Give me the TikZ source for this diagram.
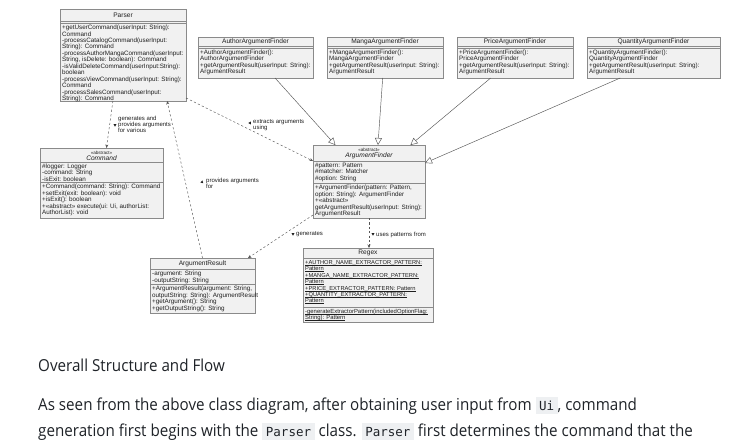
\documentclass[tikz,border=0pt]{standalone}
\usepackage{fontspec}
\setmainfont{Liberation Sans}
\newfontfamily\bodyfont[FakeStretch=0.92]{Open Sans}
\newfontfamily\codefont{DejaVu Sans Mono}
\usetikzlibrary{arrows.meta,calc,shapes.geometric}
\definecolor{boxfill}{HTML}{F1F1F1}
\definecolor{boxline}{HTML}{8A8A8A}
\definecolor{edgec}{HTML}{555555}
\definecolor{txt}{HTML}{1F1F1F}
\definecolor{codebg}{HTML}{EEF0F2}
\definecolor{bodytxt}{HTML}{1F2328}
\newcommand\codespan[1]{{\setlength{\fboxsep}{3.5pt}\colorbox{codebg}{\codefont\fontsize{12.5}{13}\selectfont #1}}}
\newcommand\ulx[1]{{\setbox0\hbox{#1}\rlap{\rule[-0.9pt]{\wd0}{0.35pt}}\box0}}
\newcommand\tightlines{\setlength{\lineskiplimit}{-20pt}}
\tikzset{
 cls/.style={draw=boxline, fill=boxfill, line width=0.5pt, anchor=north west, inner sep=0pt, outer sep=0pt},
 sepline/.style={draw=boxline, line width=0.5pt},
 mem/.style={anchor=north west, align=left, inner sep=0pt, text=txt, font=\fontsize{6.3}{6.45}\selectfont, execute at begin node=\tightlines},
 ttl/.style={inner sep=0pt, text=txt, font=\fontsize{6.6}{7}\selectfont},
 stereo/.style={inner sep=0pt, text=txt, font=\fontsize{4.6}{5}\selectfont},
 lbl/.style={anchor=north west, align=left, inner sep=0pt, text=txt, font=\fontsize{6}{6.3}\selectfont, execute at begin node=\tightlines},
 dep/.style={draw=edgec, line width=0.45pt, dash pattern=on 2.2pt off 2.2pt, -{Stealth[length=3.5pt,width=3pt]}},
 inh/.style={draw=edgec, line width=0.45pt, -{Triangle[open,length=7pt,width=7pt,fill=white]}},
 dirmark/.style={regular polygon, regular polygon sides=3, fill=txt, inner sep=0pt, minimum size=3.4pt},
 body/.style={anchor=base west, inner sep=0pt, text=bodytxt, font=\bodyfont\fontsize{16.5}{19}\selectfont},
}
\begin{document}
\begin{tikzpicture}[x=1pt,y=-1pt]
\useasboundingbox (0,0) rectangle (740,440);
\fill[white] (0,0) rectangle (740,440);

% ---------- Parser
\node[cls, minimum width=126pt, minimum height=92pt] (parser) at (60,9) {};
\node[ttl] (parsert) at (123,15) {Parser};
\draw[sepline] (60,21) -- (186,21);
\draw[sepline] (60,23.5) -- (186,23.5);
\node[mem] (parserm) at (62,24.8) {+getUserCommand(userInput: String):\\Command\\-processCatalogCommand(userInput:\\String): Command\\-processAuthorMangaCommand(userInput:\\String, isDelete: boolean): Command\\-isValidDeleteCommand(userInput:String):\\boolean\\-processViewCommand(userInput: String):\\Command\\-processSalesCommand(userInput:\\String): Command};

% ---------- Command
\node[cls, minimum width=123pt, minimum height=70pt] (command) at (40,148) {};
\node[stereo] (commands) at (101.5,152.5) {«abstract»};
\node[ttl, font=\fontsize{6.6}{7}\selectfont\itshape] (commandt) at (101.5,157.8) {Command};
\draw[sepline] (40,162) -- (163,162);
\node[mem] (commanda) at (42,163.5) {\#logger: Logger\\-command: String\\-isExit: boolean};
\draw[sepline] (40,182.5) -- (163,182.5);
\node[mem] (commandm) at (42,184) {+Command(command: String): Command\\+setExit(exit: boolean): void\\+isExit(): boolean\\+«abstract» execute(ui: Ui, authorList:\\AuthorList): void};

% ---------- Finders
\node[cls, minimum width=115pt, minimum height=41pt] (author) at (198,37) {};
\node[ttl] (authort) at (255.5,41.5) {AuthorArgumentFinder};
\draw[sepline] (198,46) -- (313,46);
\draw[sepline] (198,48) -- (313,48);
\node[mem] (authorm) at (200,49.5) {+AuthorArgumentFinder():\\AuthorArgumentFinder\\+getArgumentResult(userInput: String):\\ArgumentResult};

\node[cls, minimum width=116pt, minimum height=41pt] (manga) at (327,37) {};
\node[ttl] (mangat) at (385,41.5) {MangaArgumentFinder};
\draw[sepline] (327,46) -- (443,46);
\draw[sepline] (327,48) -- (443,48);
\node[mem] (mangam) at (329,49.5) {+MangaArgumentFinder():\\MangaArgumentFinder\\+getArgumentResult(userInput: String):\\ArgumentResult};

\node[cls, minimum width=116pt, minimum height=41pt] (price) at (457,37) {};
\node[ttl] (pricet) at (515,41.5) {PriceArgumentFinder};
\draw[sepline] (457,46) -- (573,46);
\draw[sepline] (457,48) -- (573,48);
\node[mem] (pricem) at (459,49.5) {+PriceArgumentFinder():\\PriceArgumentFinder\\+getArgumentResult(userInput: String):\\ArgumentResult};

\node[cls, minimum width=133pt, minimum height=41pt] (quantity) at (587,37) {};
\node[ttl] (quantityt) at (653.5,41.5) {QuantityArgumentFinder};
\draw[sepline] (587,46) -- (720,46);
\draw[sepline] (587,48) -- (720,48);
\node[mem] (quantitym) at (589,49.5) {+QuantityArgumentFinder():\\QuantityArgumentFinder\\+getArgumentResult(userInput: String):\\ArgumentResult};

% ---------- ArgumentFinder
\node[cls, minimum width=112pt, minimum height=73pt] (af) at (313,145) {};
\node[stereo] (afs) at (369,149.5) {«abstract»};
\node[ttl, font=\fontsize{6.6}{7}\selectfont\itshape] (aft) at (369,155.3) {ArgumentFinder};
\draw[sepline] (313,161.5) -- (425,161.5);
\node[mem] (afa) at (315,163) {\#pattern: Pattern\\\#matcher: Matcher\\\#option: String};
\draw[sepline] (313,183.5) -- (425,183.5);
\node[mem] (afm) at (315,185) {+ArgumentFinder(pattern: Pattern,\\option: String): ArgumentFinder\\+«abstract»\\getArgumentResult(userInput: String):\\ArgumentResult};

% ---------- ArgumentResult
\node[cls, minimum width=105pt, minimum height=55pt] (ar) at (150,258) {};
\node[ttl] (art) at (202.5,264) {ArgumentResult};
\draw[sepline] (150,269.5) -- (255,269.5);
\node[mem] (ara) at (152,271) {-argument: String\\-outputString: String};
\draw[sepline] (150,284.5) -- (255,284.5);
\node[mem] (arm) at (152,286) {+ArgumentResult(argument: String,\\outputString: String): ArgumentResult\\+getArgument(): String\\+getOutputString(): String};

% ---------- Regex
\node[cls, minimum width=130pt, minimum height=74pt] (regex) at (303,248) {};
\node[ttl] (regext) at (368,253) {Regex};
\draw[sepline] (303,258) -- (433,258);
\node[mem, font=\fontsize{5.75}{6.45}\selectfont] (regexa) at (305,260) {\ulx{+AUTHOR\_NAME\_EXTRACTOR\_PATTERN:}\\\ulx{Pattern}\\\ulx{+MANGA\_NAME\_EXTRACTOR\_PATTERN:}\\\ulx{Pattern}\\\ulx{+PRICE\_EXTRACTOR\_PATTERN: Pattern}\\\ulx{+QUANTITY\_EXTRACTOR\_PATTERN:}\\\ulx{Pattern}};
\draw[sepline] (303,307) -- (433,307);
\node[mem, font=\fontsize{5.9}{6.45}\selectfont] (regexm) at (305,309) {\ulx{-generateExtractorPattern(includedOptionFlag:}\\\ulx{String): Pattern}};

% ---------- Dependencies
\draw[dep] ($(parser.south west)!0.42!(parser.south east)$) -- ($(command.north west)!0.54!(command.north east)$);
\node[dirmark, rotate=180] (m1) at (115,125) {};
\node[lbl] (l1) at (118,115.5) {generates and\\provides arguments\\for various};

\draw[dep] ($(parser.south east)+(0,-3)$) -- ($(af.north west)+(0,16)$);
\node[dirmark, rotate=-30] (m2) at (250,123) {};
\node[lbl] (l2) at (253,119.5) {extracts arguments\\using};

\draw[dep] (ar.north) -- ($(parser.south west)!0.85!(parser.south east)$);
\node[dirmark, rotate=-15] (m3) at (202,182) {};
\node[lbl] (l3) at (206,177.5) {provides arguments\\for};

\draw[dep] ($(af.south west)+(0,-3)$) -- ($(ar.north east)+(-7,0)$);
\node[dirmark, rotate=60] (m4) at (293,234) {};
\node[lbl] (l4) at (296,231.5) {generates};

\draw[dep] (af.south) -- (af.south |- regex.north);
\node[dirmark, rotate=180] (m5) at (373,234) {};
\node[lbl] (l5) at (376,231.5) {uses patterns from};

% ---------- Inheritance
\draw[inh] ($(author.south west)!0.67!(author.south east)$) -- ($(af.north west)!0.2!(af.north east)$);
\draw[inh] ($(manga.south west)!0.48!(manga.south east)$) -- ($(af.north west)!0.58!(af.north east)$);
\draw[inh] ($(price.south west)!0.29!(price.south east)$) -- ($(af.north west)!0.87!(af.north east)$);
\draw[inh] ($(quantity.south west)!0.25!(quantity.south east)$) -- ($(af.north east)+(0,18)$);

% ---------- Text below
\node[body] (h1) at (38,371) {Overall Structure and Flow};
\node[body] (p1) at (38,410) {As seen from the above class diagram, after obtaining user input from \codespan{Ui}, command};
\node[body] (p2) at (38,436) {generation first begins with the \codespan{Parser} class. \codespan{Parser} first determines the command that the};
\end{tikzpicture}
\end{document}
